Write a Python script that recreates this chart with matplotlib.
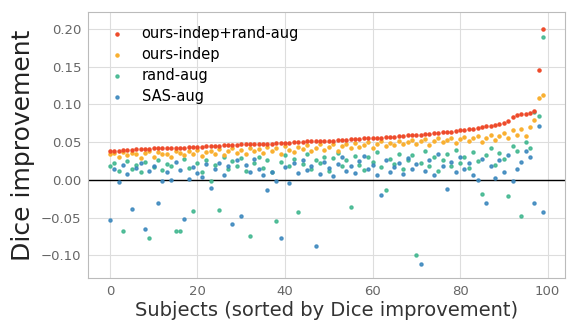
import matplotlib.pyplot as plt
import numpy as np

subjects = np.arange(100)

ours_rand = [0.038, 0.039, 0.039, 0.040, 0.040, 0.040, 0.041, 0.041, 0.041, 0.041,
             0.042, 0.042, 0.042, 0.042, 0.043, 0.043, 0.043, 0.043, 0.044, 0.044,
             0.044, 0.044, 0.045, 0.045, 0.045, 0.045, 0.046, 0.046, 0.046, 0.046,
             0.047, 0.047, 0.047, 0.047, 0.048, 0.048, 0.048, 0.048, 0.049, 0.049,
             0.049, 0.049, 0.050, 0.050, 0.050, 0.051, 0.051, 0.051, 0.052, 0.052,
             0.052, 0.052, 0.053, 0.053, 0.053, 0.054, 0.054, 0.054, 0.055, 0.055,
             0.055, 0.056, 0.056, 0.057, 0.057, 0.057, 0.058, 0.058, 0.059, 0.059,
             0.060, 0.060, 0.061, 0.061, 0.062, 0.062, 0.063, 0.063, 0.064, 0.065,
             0.066, 0.066, 0.067, 0.068, 0.069, 0.070, 0.071, 0.072, 0.073, 0.074,
             0.076, 0.078, 0.084, 0.086, 0.087, 0.088, 0.089, 0.092, 0.146, 0.200]

ours_indep = [0.035, 0.036, 0.030, 0.037, 0.033, 0.036, 0.034, 0.029, 0.036, 0.038,
              0.031, 0.037, 0.034, 0.035, 0.030, 0.039, 0.036, 0.033, 0.038, 0.034,
              0.040, 0.032, 0.037, 0.039, 0.035, 0.041, 0.033, 0.038, 0.042, 0.036,
              0.040, 0.034, 0.043, 0.038, 0.041, 0.036, 0.044, 0.039, 0.042, 0.035,
              0.045, 0.040, 0.037, 0.044, 0.041, 0.046, 0.038, 0.043, 0.047, 0.040,
              0.044, 0.048, 0.039, 0.045, 0.047, 0.042, 0.049, 0.044, 0.046, 0.050,
              0.043, 0.048, 0.051, 0.045, 0.049, 0.046, 0.052, 0.047, 0.050, 0.053,
              0.048, 0.051, 0.054, 0.046, 0.052, 0.055, 0.050, 0.053, 0.056, 0.049,
              0.054, 0.057, 0.052, 0.055, 0.058, 0.050, 0.056, 0.060, 0.053, 0.058,
              0.062, 0.055, 0.066, 0.060, 0.068, 0.058, 0.070, 0.080, 0.108, 0.112]

rand_aug = [0.018, 0.022, 0.012, -0.067, 0.025, 0.015, 0.020, 0.010, 0.024, -0.077,
            0.017, 0.026, 0.013, 0.021, 0.019, -0.068, -0.068, 0.028, 0.016, -0.041,
            0.023, 0.011, 0.027, -0.002, 0.020, -0.040, 0.030, 0.014, 0.025, 0.018,
            0.029, 0.012, -0.074, 0.022, 0.031, 0.016, 0.026, 0.010, -0.054, 0.024,
            0.033, 0.019, 0.028, -0.042, 0.021, 0.034, 0.015, 0.027, 0.023, 0.031,
            0.012, 0.029, 0.036, 0.018, 0.026, -0.036, 0.032, 0.020, 0.013, 0.030,
            0.024, 0.037, 0.017, -0.013, 0.028, 0.021, 0.035, 0.015, 0.027, 0.033,
            -0.100, 0.022, 0.038, 0.019, 0.030, 0.012, 0.026, 0.034, 0.018, 0.040,
            0.023, 0.031, 0.016, 0.037, 0.025, -0.018, 0.033, 0.042, 0.020, 0.036,
            0.028, -0.021, 0.045, 0.039, -0.048, 0.050, 0.043, 0.090, 0.085, 0.190]

sas_aug = [-0.053, 0.014, -0.003, 0.020, 0.008, -0.038, 0.016, 0.022, -0.065, 0.012,
           0.019, -0.031, -0.002, 0.010, 0.000, 0.024, 0.013, -0.052, 0.001, 0.017,
           0.009, 0.004, 0.021, -0.011, 0.015, 0.023, 0.007, 0.018, -0.058, 0.026,
           -0.048, 0.020, 0.011, 0.028, 0.014, 0.006, -0.013, 0.010, -0.001, -0.077,
           0.017, -0.004, 0.022, 0.009, 0.027, 0.013, 0.019, -0.087, 0.008, 0.024,
           0.016, 0.005, 0.021, 0.030, 0.012, 0.018, 0.009, 0.025, 0.032, 0.014,
           0.020, 0.007, -0.020, 0.026, 0.011, 0.017, 0.023, 0.008, 0.029, 0.015,
           0.021, -0.111, 0.012, 0.027, 0.006, 0.034, 0.018, -0.012, 0.024, 0.010,
           0.030, 0.015, 0.022, 0.007, 0.000, 0.028, -0.031, 0.019, 0.003, 0.026,
           0.011, 0.033, -0.002, 0.014, 0.024, 0.038, 0.030, -0.031, 0.072, -0.043]

fig = plt.figure(figsize=(5.77, 3.23), dpi=100)
ax = fig.add_axes([0.153, 0.139, 0.826, 0.825])

ax.grid(True, color='#dddddd', linewidth=0.8)
ax.set_axisbelow(True)
for s in ax.spines.values():
    s.set_color('#bbbbbb')

ax.scatter(subjects, ours_rand, s=5, color='#ee4b2b', label='ours-indep+rand-aug', zorder=5)
ax.scatter(subjects, ours_indep, s=5, color='#f9b031', label='ours-indep', zorder=4)
ax.scatter(subjects, rand_aug, s=5, color='#3fb68e', alpha=0.85, label='rand-aug', zorder=3)
ax.scatter(subjects, sas_aug, s=5, color='#3a87bd', alpha=0.85, label='SAS-aug', zorder=3)
ax.axhline(0, color='black', linewidth=1, zorder=2)

ax.set_ylim(-0.13, 0.223)
ax.set_yticks([-0.10, -0.05, 0.00, 0.05, 0.10, 0.15, 0.20])
ax.set_xticks([0, 20, 40, 60, 80, 100])
ax.tick_params(labelsize=9.5, colors='#666666', length=0, pad=5)
ax.set_xlabel('Subjects (sorted by Dice improvement)', fontsize=14, color='#333333', labelpad=2)
ax.set_ylabel('Dice improvement', fontsize=18, color='#222222')

ax.legend(loc='upper left', frameon=False, fontsize=10.5, markerscale=1.0,
          handletextpad=0.65, labelspacing=0.4, borderaxespad=0.6)

fig.savefig('out.png')
